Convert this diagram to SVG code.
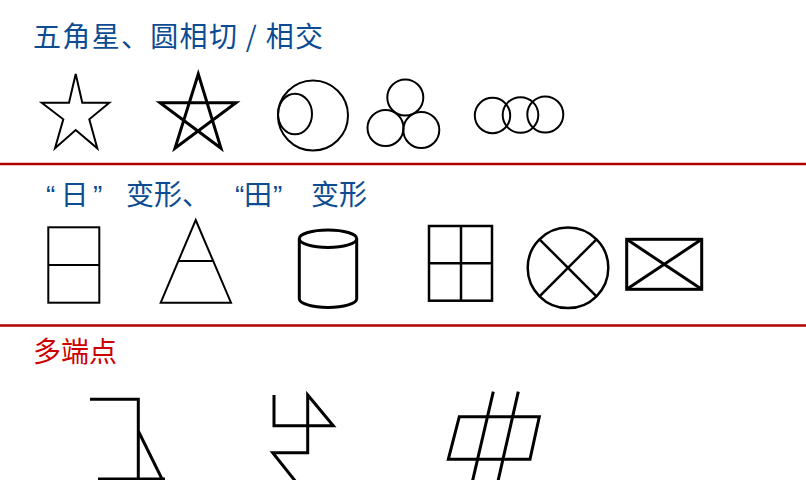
<svg xmlns="http://www.w3.org/2000/svg" width="806" height="480" viewBox="0 0 806 480">
<style>
.t{font-family:"Noto Sans CJK SC","Noto Sans",sans-serif;font-size:28px}
.q{font-family:"Liberation Sans",Arial,sans-serif}
.blue{fill:#0d4c92}
.red{fill:#cc0000}
.s{fill:none;stroke:#000;stroke-width:2;stroke-linejoin:miter}
.m{fill:none;stroke:#000;stroke-width:2.5}
.k{fill:none;stroke:#000;stroke-width:3}
.sep{stroke:#b00000;stroke-width:2.5}
</style>
<rect width="806" height="480" fill="#fff"/>
<g id="titles">
<text class="t blue" x="33" y="47" textLength="290" lengthAdjust="spacing">五角星、圆相切 / 相交</text>
<text class="t blue" y="205"><tspan class="q" x="46">“</tspan><tspan x="60.5">日</tspan><tspan class="q" x="93">”</tspan><tspan x="126">变形、</tspan><tspan class="q" x="235">“</tspan><tspan x="244">田</tspan><tspan class="q" x="273">”</tspan><tspan x="311">变形</tspan></text>
<text class="t red" x="33" y="362">多端点</text>
</g>
<g id="separators">
<line class="sep" x1="0" y1="164" x2="806" y2="164"/>
<line class="sep" x1="0" y1="325.5" x2="806" y2="325.5"/>
</g>
<g id="star">
<polygon class="s" points="75.7,74 82.3,102.7 109.3,102.7 89.3,119.3 97.3,148.3 75.7,130 55,148.3 63.3,119.3 41.7,102.7 69,102.7"/>
</g>
<g id="pentagram">
<polygon class="k" points="198.3,74 175,148.3 236,102.7 160,102.7 221,148.3"/>
</g>
<g id="tangent-inner">
<circle class="s" cx="313" cy="115.5" r="35"/>
<ellipse class="s" cx="295" cy="114" rx="17" ry="20.3"/>
</g>
<g id="three-tangent">
<circle class="s" cx="405.3" cy="97.5" r="18"/>
<circle class="s" cx="385.5" cy="128" r="18"/>
<circle class="s" cx="421.3" cy="130" r="18"/>
</g>
<g id="three-intersect">
<circle class="s" cx="492.5" cy="115.5" r="17.7"/>
<circle class="s" cx="520.5" cy="115" r="17.8"/>
<circle class="s" cx="545.3" cy="114.5" r="18"/>
</g>
<g id="ri-rect">
<rect class="s" x="48.3" y="227.3" width="51" height="75.4"/>
<line class="s" x1="48.3" y1="265" x2="99.3" y2="265"/>
</g>
<g id="triangle">
<polygon class="s" points="195.7,220 231,302.7 160.7,302.7"/>
<line class="s" x1="178.2" y1="261" x2="213" y2="261"/>
</g>
<g id="cylinder">
<ellipse class="k" cx="328" cy="238.7" rx="28.7" ry="8.7"/>
<path class="k" d="M299.3,238.7 V298.7 A28.7,8.7 0 0 0 356.7,298.7 V238.7"/>
</g>
<g id="tian-square">
<rect class="m" x="429" y="226" width="63" height="74.7"/>
<line class="m" x1="461" y1="226" x2="461" y2="300.7"/>
<line class="m" x1="429" y1="263.3" x2="492" y2="263.3"/>
</g>
<g id="circle-x">
<circle class="m" cx="568" cy="267.8" r="40.3"/>
<line class="m" x1="539.5" y1="239.3" x2="596.5" y2="296.3"/>
<line class="m" x1="596.5" y1="239.3" x2="539.5" y2="296.3"/>
</g>
<g id="rect-x">
<rect class="k" x="626.7" y="239.3" width="75" height="50"/>
<line class="k" x1="626.7" y1="239.3" x2="701.7" y2="289.3"/>
<line class="k" x1="701.7" y1="239.3" x2="626.7" y2="289.3"/>
</g>
<g id="multi-1">
<polyline class="k" points="90,399.3 138.3,399.3 138.3,482"/>
<line class="k" x1="138.3" y1="431" x2="163.5" y2="482"/>
<line class="k" x1="98" y1="479" x2="165" y2="479"/>
</g>
<g id="multi-2">
<polyline class="k" points="274,395 274,425.7 333.3,425.7 307.7,395 307.7,452.7 272.7,452.7 296,482"/>
</g>
<g id="multi-3">
<polygon class="k" points="459.3,416.7 539.3,416.7 530,459.3 448.3,459.3"/>
<line class="k" x1="493.3" y1="391.7" x2="472.3" y2="482"/>
<line class="k" x1="518.3" y1="391.7" x2="497.8" y2="482"/>
</g>
</svg>
